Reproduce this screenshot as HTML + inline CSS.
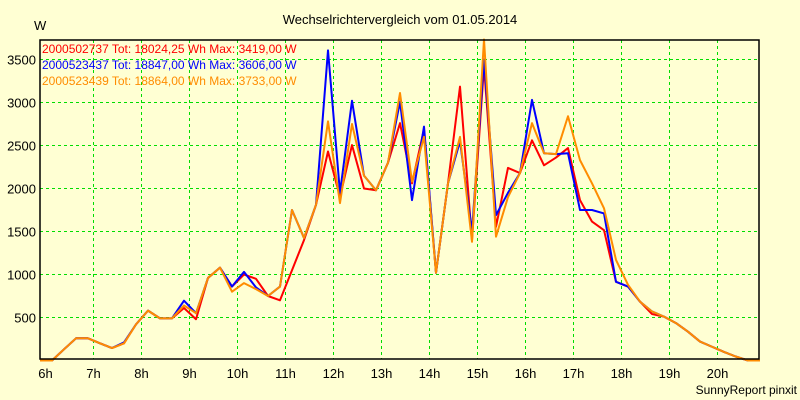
<!DOCTYPE html>
<html><head><meta charset="utf-8"><style>
body{margin:0;background:#ffffd3;}
svg{display:block;font-family:"Liberation Sans",sans-serif;}
</style></head><body>
<svg id="c" width="800" height="400" xmlns="http://www.w3.org/2000/svg">
<rect width="800" height="400" fill="#ffffd3"/>
<text x="400" y="24" text-anchor="middle" font-size="13" fill="#000">Wechselrichtervergleich vom 01.05.2014</text>
<text x="34" y="30" font-size="13" fill="#000">W</text>
<g id="grid"></g><g id="lines"></g><g id="labels"></g>
<rect x="40" y="40" width="719" height="319" fill="none" stroke="#000" stroke-width="1.5"/>
<g id="legend"></g>
<text x="797" y="394" text-anchor="end" font-size="12" fill="#000">SunnyReport pinxit</text>
</svg>
<script>
const hourLabels=["6h","7h","8h","9h","10h","11h","12h","13h","14h","15h","16h","17h","18h","19h","20h"];
const yTicks=[500,1000,1500,2000,2500,3000,3500];
const seriesNames=["2000502737 Tot: 18024,25 Wh Max: 3419,00 W","2000523437 Tot: 18847,00 Wh Max: 3606,00 W","2000523439 Tot: 18864,00 Wh Max: 3733,00 W"];
const seriesColors=["#ff0000","#0000ff","#ff8c00"];
const redVals=[0,0,130,258,258,200,145,200,420,580,490,490,610,480,960,1080,860,1000,950,750,700,1050,1400,1810,2430,1900,2505,2000,1980,2300,2760,2060,2690,1020,2060,3185,1400,3419,1555,2240,2180,2560,2270,2360,2470,1865,1615,1515,915,860,685,540,510,435,335,220,160,100,45,0,0];
const blueVals=[0,0,130,258,258,200,145,210,420,580,490,490,695,550,960,1080,860,1030,850,750,860,1750,1425,1810,3606,1950,3020,2150,1980,2300,3010,1865,2720,1020,2060,2550,1500,3500,1690,1950,2180,3030,2410,2400,2410,1750,1750,1710,915,860,685,570,510,435,335,220,160,100,45,0,0];
const orangeVals=[0,0,130,258,258,200,145,200,420,580,490,490,640,550,960,1080,800,900,830,750,860,1750,1425,1810,2780,1830,2750,2150,1980,2300,3110,2080,2600,1020,2060,2600,1380,3733,1440,1900,2180,2760,2410,2400,2840,2330,2060,1770,1170,880,685,570,510,435,335,220,160,100,45,0,0];
const NS="http://www.w3.org/2000/svg";
const xIdx=k=>40+12*k;
const xHour=i=>45.5+48*i;
const yV=v=>360.5-v*0.086;
function mk(t,a){const e=document.createElementNS(NS,t);for(const k in a)e.setAttribute(k,a[k]);return e;}
const grid=document.getElementById('grid'),labels=document.getElementById('labels'),lines=document.getElementById('lines'),legend=document.getElementById('legend');
hourLabels.forEach((h,i)=>{
  if(i>0){const l=mk('line',{x1:xHour(i),x2:xHour(i),y1:40,y2:359,stroke:'#00dd00','stroke-dasharray':'3,3'});
  
  
  grid.appendChild(l);}
  const t=mk('text',{x:xHour(i),y:378,'text-anchor':'middle','font-size':13,fill:'#000'});
  t.textContent=h;
  
  
  labels.appendChild(t);
});
yTicks.forEach(v=>{
  const l=mk('line',{x1:40,x2:759,y1:yV(v),y2:yV(v),stroke:'#00dd00','stroke-dasharray':'3,3'});
  
  
  grid.appendChild(l);
  const t=mk('text',{x:36,y:yV(v)+5,'text-anchor':'end','font-size':13,fill:'#000'});
  t.textContent=v;
  
  
  labels.appendChild(t);
});
[redVals,blueVals,orangeVals].forEach((vals,s)=>{
  const p=mk('polyline',{points:vals.map((v,k)=>xIdx(k)+','+yV(v)).join(' '),fill:'none',stroke:seriesColors[s],'stroke-width':2,'stroke-linejoin':'round'});
  
  
  lines.appendChild(p);
  const t=mk('text',{x:42,y:53+16*s,'font-size':12,fill:seriesColors[s]});
  t.textContent=seriesNames[s];
  
  
  legend.appendChild(t);
});
</script>
</body></html>
